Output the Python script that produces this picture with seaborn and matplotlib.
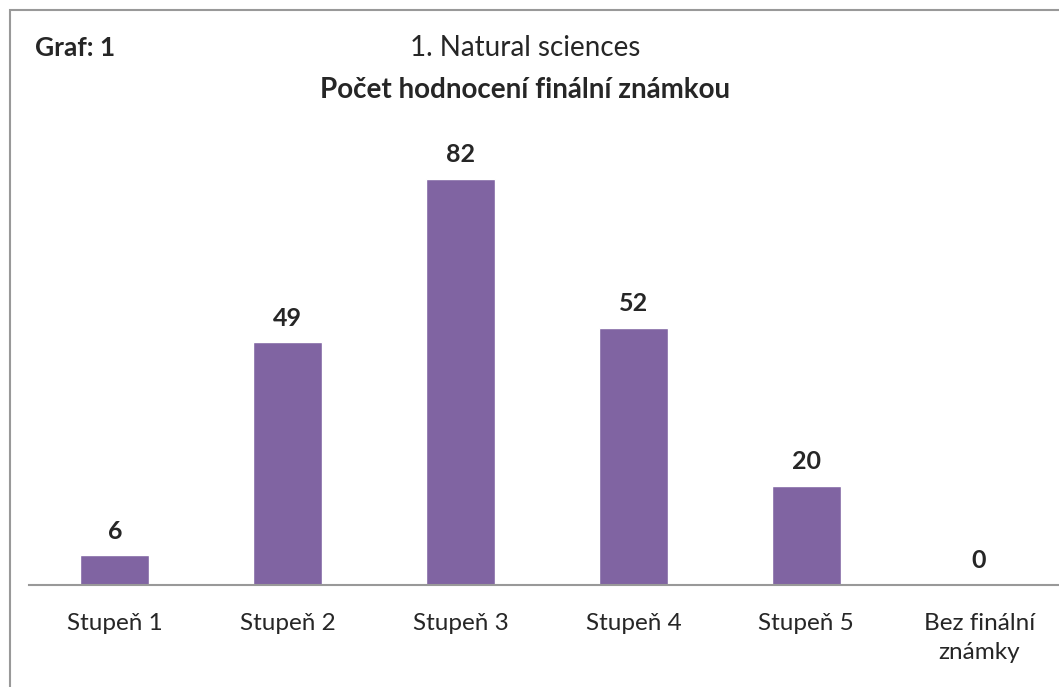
import matplotlib
matplotlib.use("Agg")
import matplotlib.pyplot as plt
import seaborn as sns
import pandas as pd
from matplotlib.patches import Rectangle

categories = ["Stupeň 1", "Stupeň 2", "Stupeň 3", "Stupeň 4", "Stupeň 5", "Bez finální\nznámky"]
counts = [6, 49, 82, 52, 20, 0]

df = pd.DataFrame({"stupen": categories, "pocet": counts})

sns.set_style("white")
plt.rcParams['font.family'] = ['Lato', 'DejaVu Sans']

fig = plt.figure(figsize=(10.59, 6.87), dpi=100)
ax = fig.add_axes([28.5 / 1059, 102 / 687, 1037 / 1059, 445.5 / 687])

sns.barplot(data=df, x="stupen", y="pocet", color="#8064A2", width=0.4, saturation=1, ax=ax)

# hodnoty nad sloupci
for i, v in enumerate(counts):
    ax.text(i, v + 4.9, str(v), ha="center", va="center", fontsize=18, fontweight="bold")

ax.set_ylim(0, 90)
ax.set_xlim(-0.5, 5.5)
ax.set_xlabel("")
ax.set_ylabel("")
ax.set_yticks([])
for s in ["top", "right", "left"]:
    ax.spines[s].set_visible(False)
ax.spines["bottom"].set_color("#999999")
ax.spines["bottom"].set_linewidth(1.5)
ax.tick_params(axis="x", length=0, pad=20, labelsize=17.5)
for lab in ax.get_xticklabels():
    lab.set_linespacing(1.5)

fig.text(525 / 1059, 1 - 48 / 687, "1. Natural sciences", ha="center", va="center", fontsize=20)
fig.text(525 / 1059, 1 - 90 / 687, "Počet hodnocení finální známkou", ha="center", va="center",
         fontsize=20, fontweight="bold")
fig.text(35 / 1059, 1 - 48 / 687, "Graf: 1", ha="left", va="center", fontsize=19, fontweight="bold")

# ramecek grafu
fig.patches.append(Rectangle((10 / 1059, -0.1), 1.2, 1 - 10 / 687 + 0.1, transform=fig.transFigure,
                             fill=False, edgecolor="#999999", linewidth=1.5))

fig.savefig("out.png", dpi=100)
